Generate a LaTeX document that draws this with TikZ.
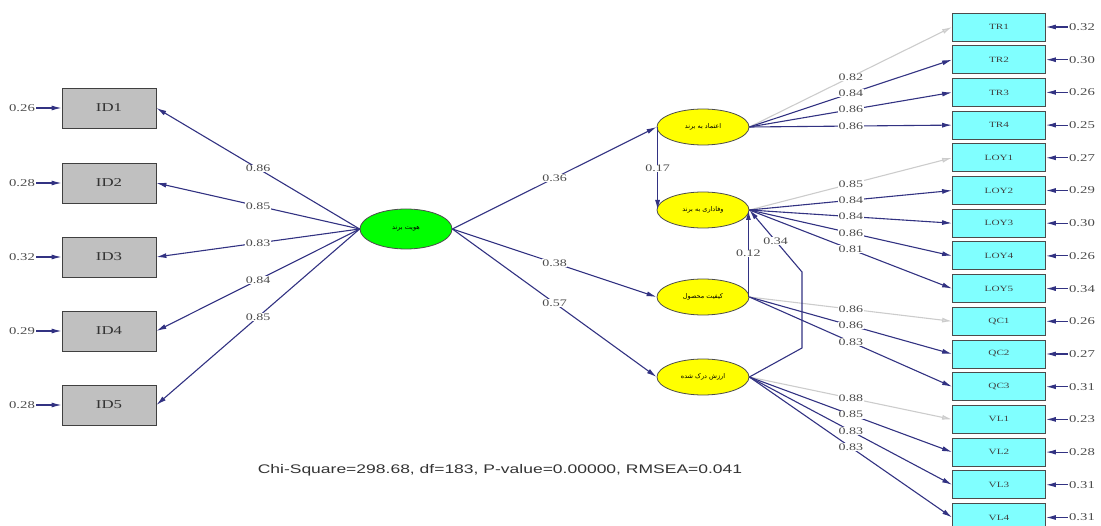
\documentclass[tikz,border=0pt]{standalone}
\usepackage{fontspec}
\usepackage{graphicx}
\setmainfont{Liberation Serif}
\newfontfamily\chifont{Liberation Sans}
\newfontfamily\arabicfont[Script=Arabic]{DejaVu Sans}
\TeXXeTstate=1
\usetikzlibrary{arrows.meta,shapes.geometric}

\newcommand{\wide}[1]{\scalebox{1.4}[1]{#1}}
\newcommand{\fa}[1]{{\arabicfont\beginR #1\endR}}

\definecolor{lnavy}{RGB}{50,50,130}
\definecolor{boxcyan}{RGB}{128,255,255}
\definecolor{boxgray}{RGB}{192,192,192}
\definecolor{latyel}{RGB}{255,255,0}
\definecolor{latgrn}{RGB}{0,255,0}

\tikzset{
  obsgray/.style={draw=black!75, thick, fill=boxgray, minimum width=94pt, minimum height=40pt,
    inner sep=0pt, text=black!80, font=\fontsize{12}{12}\selectfont},
  obscyan/.style={draw=black!70, thick, fill=boxcyan, minimum width=93pt, minimum height=28pt,
    inner sep=0pt, text=black!75, font=\fontsize{8}{8}\selectfont},
  latgreen/.style={ellipse, draw=black!70, thick, fill=latgrn, minimum width=92pt,
    minimum height=40pt, inner sep=0pt, font=\fontsize{6.5}{6.5}\selectfont},
  latyellow/.style={ellipse, draw=black!70, thick, fill=latyel, minimum width=92pt,
    minimum height=36pt, inner sep=0pt, font=\fontsize{6.5}{6.5}\selectfont},
  load/.style={draw=lnavy, line width=1.1pt, -{Latex[length=10pt,width=5pt]}},
  fixload/.style={draw=black!20, line width=1.1pt, -{Latex[length=10pt,width=5pt,fill=black!12]}},
  coef/.style={fill=white, inner sep=0.6pt, text=black!70, font=\fontsize{10}{10}\selectfont},
  errlbl/.style={inner sep=1pt, text=black!70, font=\fontsize{10.5}{10.5}\selectfont}
}

\begin{document}
\begin{tikzpicture}[x=1pt,y=-1pt]
    \useasboundingbox (0,0) rectangle (1101,526);

    % Variables latentes
    \node[latgreen] (brid) at (406,229) {\fa{هویت برند}};
    \node[latyellow] (trust) at (703,127) {\fa{اعتماد به برند}};
    \node[latyellow] (loyal) at (703,210) {\fa{وفاداری به برند}};
    \node[latyellow] (qual) at (703,297) {\fa{کیفیت محصول}};
    \node[latyellow] (value) at (703,377) {\fa{ارزش درک شده}};

    % Indicadores ID, errores y cargas
    \foreach \n/\y/\e/\l in {1/108/0.26/0.86,2/183/0.28/0.85,3/257/0.32/0.83,4/331/0.29/0.84,5/405/0.28/0.85}
    {
        \node[obsgray] (id\n) at (109,\y) {\wide{ID\n}};
        \node[errlbl] (eid\n) at (22,\y) {\wide{\e}};
        \draw[load] (eid\n) -- (id\n);
        \draw[load] (brid.west) -- node[coef] {\wide{\l}} (id\n.east);
    }

    % Indicadores TR
    \foreach \n/\y/\e/\l/\s in {1/27/0.32/0.82/fixload,2/59.7/0.30/0.84/load,3/92.4/0.26/0.86/load,4/125.1/0.25/0.86/load}
    {
        \node[obscyan] (tr\n) at (999,\y) {\wide{TR\n}};
        \node[errlbl] (etr\n) at (1082,\y) {\wide{\e}};
        \draw[load] (etr\n) -- (tr\n);
        \draw[\s] (trust.east) -- node[coef] {\wide{\l}} (tr\n.west);
    }

    % Indicadores LOY
    \foreach \n/\y/\e/\l/\s in {1/157.8/0.27/0.85/fixload,2/190.5/0.29/0.84/load,3/223.2/0.30/0.84/load,4/255.9/0.26/0.86/load,5/288.6/0.34/0.81/load}
    {
        \node[obscyan] (loy\n) at (999,\y) {\wide{LOY\n}};
        \node[errlbl] (eloy\n) at (1082,\y) {\wide{\e}};
        \draw[load] (eloy\n) -- (loy\n);
        \draw[\s] (loyal.east) -- node[coef] {\wide{\l}} (loy\n.west);
    }

    % Indicadores QC
    \foreach \n/\y/\e/\l/\s in {1/321.3/0.26/0.86/fixload,2/354/0.27/0.86/load,3/386.7/0.31/0.83/load}
    {
        \node[obscyan] (qc\n) at (999,\y) {\wide{QC\n}};
        \node[errlbl] (eqc\n) at (1082,\y) {\wide{\e}};
        \draw[load] (eqc\n) -- (qc\n);
        \draw[\s] (qual.east) -- node[coef] {\wide{\l}} (qc\n.west);
    }

    % Indicadores VL
    \foreach \n/\y/\e/\l/\s in {1/419.4/0.23/0.88/fixload,2/452.1/0.28/0.85/load,3/484.8/0.31/0.83/load,4/517.5/0.31/0.83/load}
    {
        \node[obscyan] (vl\n) at (999,\y) {\wide{VL\n}};
        \node[errlbl] (evl\n) at (1082,\y) {\wide{\e}};
        \draw[load] (evl\n) -- (vl\n);
        \draw[\s] (value.east) -- node[coef] {\wide{\l}} (vl\n.west);
    }

    % Relaciones estructurales
    \draw[load] (brid.east) -- node[coef] {\wide{0.36}} (trust.west);
    \draw[load] (brid.east) -- node[coef] {\wide{0.38}} (qual.west);
    \draw[load] (brid.east) -- node[coef] {\wide{0.57}} (value.west);
    \draw[load] ([xshift=1pt]trust.west) -- node[coef] {\wide{0.17}} ([xshift=1pt]loyal.west);
    \draw[load] ([xshift=-1pt]qual.east) -- node[coef] {\wide{0.12}} ([xshift=-1pt]loyal.east);
    \coordinate (bend1) at (802,348);
    \coordinate (bend2) at (802,272);
    \draw[load] (value.east) -- (bend1) -- (bend2) -- node[coef] {\wide{0.34}} (loyal.east);

    % Ajuste
    \node[font=\chifont\fontsize{12.5}{12.5}\selectfont, text=black!80] (fit) at (500,470)
        {\wide{Chi-Square=298.68, df=183, P-value=0.00000, RMSEA=0.041}};
\end{tikzpicture}
\end{document}
